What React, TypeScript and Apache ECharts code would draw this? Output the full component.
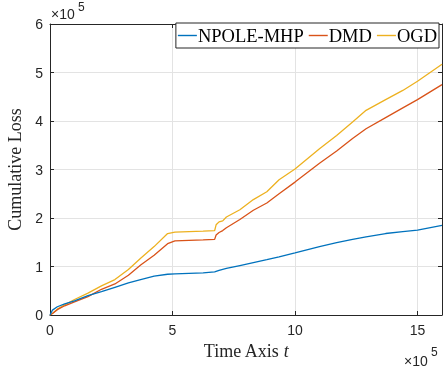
import React, { useEffect, useRef } from "react";
import * as echarts from "echarts";

// x in units of 1e5
const xs = [0, 0.1, 0.3, 0.6, 1.0, 1.55, 2.1, 2.65, 3.2, 3.7, 4.25, 4.8, 5.1, 6.25, 6.72, 6.78, 6.9, 7.05, 7.2, 7.75, 8.3, 8.85, 9.35, 10, 11, 11.7, 12.35, 12.9, 13.7, 14.4, 15, 16];
// y in units of 1e5
const npole = [0, 0.1, 0.17, 0.23, 0.29, 0.4, 0.48, 0.57, 0.66, 0.73, 0.8, 0.84, 0.85, 0.87, 0.89, 0.9, 0.92, 0.94, 0.96, 1.02, 1.08, 1.14, 1.2, 1.28, 1.41, 1.49, 1.56, 1.61, 1.68, 1.72, 1.75, 1.85];
const dmd = [0, 0.03, 0.11, 0.19, 0.27, 0.38, 0.53, 0.64, 0.82, 1.03, 1.23, 1.47, 1.53, 1.55, 1.56, 1.65, 1.7, 1.74, 1.8, 1.97, 2.16, 2.31, 2.5, 2.74, 3.13, 3.38, 3.64, 3.84, 4.07, 4.27, 4.44, 4.75];
const ogd = [0, 0.03, 0.12, 0.21, 0.32, 0.45, 0.6, 0.73, 0.94, 1.17, 1.41, 1.68, 1.71, 1.73, 1.74, 1.86, 1.92, 1.94, 2.02, 2.17, 2.38, 2.54, 2.79, 3.01, 3.43, 3.7, 3.98, 4.22, 4.44, 4.63, 4.82, 5.17];
const seriesNames = ["NPOLE-MHP", "DMD", "OGD"];
const colors = ["#0072BD", "#D95319", "#EDB120"];

const pair = (ys: number[]) => xs.map((x, i) => [x, ys[i]]);

export default function App() {
  const ref = useRef<HTMLDivElement>(null);
  useEffect(() => {
    if (!ref.current) return;
    const chart = echarts.init(ref.current, null, { renderer: "svg" });
    const axisColor = "#262626";
    const gridColor = "#e3e3e3";
    const sans = "'Liberation Sans', Arial, sans-serif";
    const serif = "'Liberation Serif', 'Times New Roman', serif";
    const baseAxis = {
      type: "value" as const,
      axisLine: { show: true, onZero: false, lineStyle: { color: axisColor, width: 1 } },
      axisTick: { show: true, inside: true, length: 4, lineStyle: { color: axisColor } },
    };
    chart.setOption({
      animation: false,
      color: colors,
      grid: { left: 50, right: 1, top: 24, bottom: 53, outerBoundsMode: "none", containLabel: false },
      legend: {
        data: seriesNames,
        right: 4,
        top: 23,
        orient: "horizontal",
        icon: "rect",
        backgroundColor: "#fff",
        borderColor: axisColor,
        borderWidth: 1,
        borderRadius: 0,
        padding: [3, 2, 3, 2],
        itemGap: 5,
        itemWidth: 19,
        itemHeight: 1.4,
        textStyle: { fontFamily: serif, fontSize: 18.5, color: "#000", padding: [0, 0, 0, -4] },
      },
      xAxis: [
        {
          ...baseAxis,
          min: 0,
          max: 16,
          interval: 5,
          position: "bottom",
          name: "Time Axis {i|t}",
          nameLocation: "middle",
          nameGap: 26,
          nameTextStyle: {
            fontFamily: serif,
            fontSize: 18,
            color: "#262626",
            rich: { i: { fontFamily: serif, fontStyle: "italic", fontSize: 18, color: "#262626" } },
          },
          axisLabel: { fontFamily: sans, fontSize: 14, color: axisColor, margin: 8, showMaxLabel: false },
          splitLine: { show: true, lineStyle: { color: gridColor, width: 1 } },
        },
        {
          ...baseAxis,
          min: 0,
          max: 16,
          interval: 5,
          position: "top",
          axisLabel: { show: false },
          splitLine: { show: false },
        },
      ],
      yAxis: [
        {
          ...baseAxis,
          min: 0,
          max: 6,
          interval: 1,
          position: "left",
          name: "Cumulative Loss",
          nameLocation: "middle",
          nameGap: 21,
          nameTextStyle: { fontFamily: serif, fontSize: 18, color: "#262626" },
          axisLabel: { fontFamily: sans, fontSize: 14, color: axisColor, margin: 7 },
          splitLine: { show: true, lineStyle: { color: gridColor, width: 1 } },
        },
        {
          ...baseAxis,
          min: 0,
          max: 6,
          interval: 1,
          position: "right",
          axisLabel: { show: false },
          splitLine: { show: false },
        },
      ],
      series: [npole, dmd, ogd].map((ys, i) => ({
        name: seriesNames[i],
        type: "line",
        data: pair(ys),
        showSymbol: false,
        symbol: "none",
        lineStyle: { width: 1.3, color: colors[i] },
        itemStyle: { color: colors[i] },
        z: 3 - i + 2,
      })),
      graphic: [
        { type: "text", left: 51, top: 7, style: { text: "×10", font: `14px ${sans}`, fill: axisColor } },
        { type: "text", left: 78, top: 1, style: { text: "5", font: `12px ${sans}`, fill: axisColor } },
        { type: "text", left: 404, top: 354, style: { text: "×10", font: `14px ${sans}`, fill: axisColor } },
        { type: "text", left: 431, top: 346, style: { text: "5", font: `12px ${sans}`, fill: axisColor } },
      ],
    });
    return () => chart.dispose();
  }, []);
  return <div ref={ref} style={{ position: "fixed", left: 0, top: 0, width: 443, height: 368 }} />;
}
